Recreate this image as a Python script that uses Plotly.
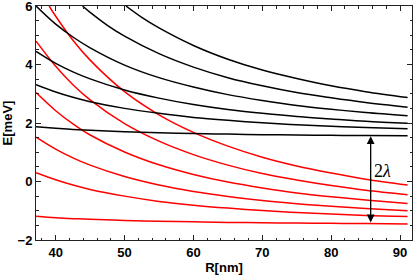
import plotly.graph_objects as go

# Sample radii (nm)
R = [37.15, 40, 42.5, 45, 50, 55, 60, 65, 70, 75, 80, 85, 91.1]

# Black branch (upper, +lambda) energies in meV
black_1 = [1.87, 1.82, 1.78, 1.75, 1.70, 1.67, 1.64, 1.62, 1.60, 1.59, 1.58, 1.57, 1.56]
black_2 = [3.31, 3.06, 2.88, 2.73, 2.50, 2.33, 2.19, 2.09, 2.01, 1.94, 1.89, 1.85, 1.80]
black_3 = [4.45, 4.04, 3.75, 3.51, 3.13, 2.85, 2.63, 2.46, 2.33, 2.22, 2.14, 2.06, 1.99]
black_4 = [6.00, 5.38, 4.94, 4.57, 3.98, 3.55, 3.23, 2.97, 2.77, 2.60, 2.47, 2.36, 2.25]
R_b5 = [43.9, 45, 47.5, 50, 55, 60, 65, 70, 75, 80, 85, 91.1]
black_5 = [6.00, 5.78, 5.34, 4.97, 4.37, 3.91, 3.55, 3.27, 3.04, 2.86, 2.70, 2.54]
R_b6 = [50.2, 52.5, 55, 60, 65, 70, 75, 80, 85, 91.1]
black_6 = [6.00, 5.61, 5.25, 4.65, 4.18, 3.81, 3.52, 3.27, 3.07, 2.87]

# Red branch (lower, -lambda) energies in meV
red_1 = [-1.19, -1.24, -1.27, -1.29, -1.33, -1.36, -1.38, -1.40, -1.41, -1.42, -1.43, -1.44, -1.45]
red_2 = [0.30, 0.06, -0.12, -0.27, -0.50, -0.68, -0.81, -0.91, -0.99, -1.06, -1.11, -1.16, -1.20]
red_3 = [1.52, 1.11, 0.81, 0.56, 0.17, -0.12, -0.34, -0.51, -0.65, -0.76, -0.85, -0.92, -1.00]
red_4 = [3.04, 2.42, 1.97, 1.59, 1.01, 0.57, 0.24, -0.02, -0.22, -0.39, -0.52, -0.63, -0.75]
red_5 = [4.80, 3.94, 3.31, 2.79, 1.98, 1.38, 0.92, 0.56, 0.27, 0.05, -0.14, -0.30, -0.45]
R_r6 = [39.05, 40, 42.5, 45, 50, 55, 60, 65, 70, 75, 80, 85, 91.1]
red_6 = [6.00, 5.65, 4.83, 4.15, 3.07, 2.28, 1.68, 1.21, 0.83, 0.53, 0.29, 0.08, -0.12]

# Gap arrow (2 lambda)
arrow_R = 85.74
arrow_top = 1.55
arrow_bottom = -1.45
label_R = 87.5
label_E = 0.36

x_ticks = [40, 50, 60, 70, 80, 90]
y_ticks = [-2, 0, 2, 4, 6]

fig = go.Figure()

black_sets = [(R, black_1), (R, black_2), (R, black_3), (R, black_4), (R_b5, black_5), (R_b6, black_6)]
red_sets = [(R, red_1), (R, red_2), (R, red_3), (R, red_4), (R, red_5), (R_r6, red_6)]

for xs, ys in red_sets:
    fig.add_trace(go.Scatter(x=xs, y=ys, mode="lines",
                             line=dict(color="#ff0000", width=1.5, shape="spline", smoothing=1.0),
                             showlegend=False, hoverinfo="skip"))
for xs, ys in black_sets:
    fig.add_trace(go.Scatter(x=xs, y=ys, mode="lines",
                             line=dict(color="#000000", width=1.5, shape="spline", smoothing=1.0),
                             showlegend=False, hoverinfo="skip"))

fig.add_annotation(x=arrow_R, y=arrow_top, ax=arrow_R, ay=arrow_bottom,
                   xref="x", yref="y", axref="x", ayref="y",
                   text="", showarrow=True, arrowhead=2, startarrowhead=2,
                   arrowside="end+start", arrowsize=1.2, startarrowsize=1.2,
                   arrowwidth=1.3, arrowcolor="#000000")
fig.add_annotation(x=label_R, y=label_E, xref="x", yref="y", showarrow=False,
                   text="2<i>λ</i>", xanchor="center", yanchor="middle",
                   font=dict(family="Liberation Serif, DejaVu Serif, serif", size=18, color="#000"))

axis_font = dict(family="Liberation Sans, Arial, sans-serif", size=13, color="#000")

fig.update_xaxes(range=[37.14, 91.74], tickvals=x_ticks, ticktext=[f"<b>{v}</b>" for v in x_ticks],
                 ticks="inside", ticklen=5, tickwidth=1, tickcolor="#222",
                 minor=dict(ticks="inside", dtick=2, tick0=40, ticklen=2.5, tickcolor="#222", showgrid=False),
                 showline=True, linecolor="#222", linewidth=1, mirror="allticks",
                 showgrid=False, zeroline=False, tickfont=axis_font, ticklabeloverflow="allow",
                 title=dict(text="<b>R[nm]</b>", font=axis_font, standoff=4))
fig.update_yaxes(range=[-2, 6], tickvals=y_ticks, ticktext=[f"<b>{'−2' if v == -2 else v}</b>" for v in y_ticks],
                 ticks="inside", ticklen=5, tickwidth=1, tickcolor="#222",
                 minor=dict(ticks="inside", dtick=0.5, tick0=0, ticklen=2.5, tickcolor="#222", showgrid=False),
                 showline=True, linecolor="#222", linewidth=1, mirror="allticks",
                 showgrid=False, zeroline=False, tickfont=axis_font, ticklabeloverflow="allow",
                 title=dict(text="<b>E[meV]</b>", font=axis_font, standoff=2))

fig.update_layout(width=415, height=279, margin=dict(l=36, r=3, t=6, b=39, autoexpand=False),
                  plot_bgcolor="white", paper_bgcolor="white")

fig.write_html("out.html", config={"displayModeBar": False},
               post_script="document.body.style.margin='0';document.body.style.padding='0';")
